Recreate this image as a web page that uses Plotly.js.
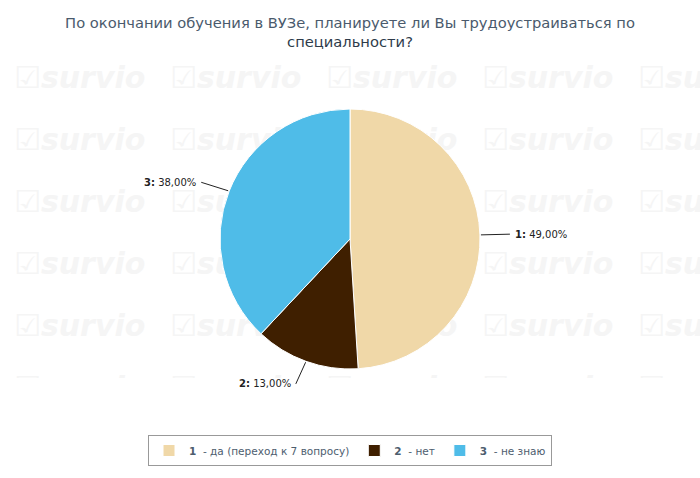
<!DOCTYPE html>
<html>
<head>
<meta charset="utf-8">
<script src="https://cdn.plot.ly/plotly-3.0.1.min.js"></script>
<style>
html,body{margin:0;padding:0;background:#fff;}
#wrap{position:relative;width:700px;height:478px;overflow:hidden;}
#wm{position:absolute;left:0;top:0;width:700px;height:378px;overflow:hidden;}
.w{position:absolute;font-family:"DejaVu Sans",sans-serif;font-weight:bold;font-style:italic;font-size:30px;color:#f5f5f5;white-space:nowrap;}
#chart{position:absolute;left:0;top:0;}
</style>
</head>
<body>
<div id="wrap"><div id="wm"></div><div id="chart"></div></div>
<script>
const categories = ['1', '2', '3'];
const descriptions = ['да (переход к 7 вопросу)', 'нет', 'не знаю'];
const values = [49, 13, 38];
const colors = ['#f0d8a8', '#3f1f00', '#4fbce8'];

// faint background watermark (decorative)
const wm = document.getElementById('wm');
for (let r = 0; r < 6; r++) {
  for (let c = 0; c < 5; c++) {
    const d = document.createElement('div');
    d.className = 'w';
    d.textContent = '☑survio';
    d.style.left = (14 + c * 156) + 'px';
    d.style.top = (60 + r * 62) + 'px';
    wm.appendChild(d);
  }
}

const W = 700, H = 478;
const cx = 350, cy = 239, R = 130;

const total = values.reduce((a, b) => a + b, 0);
const annotations = [];
let cum = 0;
const fmt = v => (v / total * 100).toFixed(2).replace('.', ',') + '%';
values.forEach((v, i) => {
  const mid = (cum + v / 2) / total;
  cum += v;
  const th = (90 - mid * 360) * Math.PI / 180;
  const px = cx + (R + 1) * Math.cos(th), py = cy - (R + 1) * Math.sin(th);
  const tx = cx + (R + 30) * Math.cos(th), ty = cy - (R + 24) * Math.sin(th);
  annotations.push({
    x: px / W, y: 1 - py / H, xref: 'paper', yref: 'paper',
    ax: tx - px, ay: ty - py, axref: 'pixel', ayref: 'pixel',
    showarrow: true, arrowhead: 0, arrowwidth: 1, arrowcolor: '#222',
    xanchor: Math.cos(th) >= 0 ? 'left' : 'right', yanchor: 'middle',
    borderpad: 4,
    text: '<b>' + categories[i] + ':</b> ' + fmt(v),
    font: {family: 'DejaVu Sans, sans-serif', size: 10, color: '#222'}
  });
});

const trace = {
  type: 'pie',
  labels: categories.map((c, i) => '<b>' + c + '</b>  - ' + descriptions[i]),
  values: values,
  sort: false,
  direction: 'clockwise',
  rotation: 0,
  marker: {colors: colors, line: {color: '#ffffff', width: 1}},
  textinfo: 'none',
  hoverinfo: 'none',
  domain: {x: [(cx - R) / W, (cx + R) / W], y: [1 - (cy + R) / H, 1 - (cy - R) / H]}
};

const layout = {
  width: W, height: H,
  margin: {l: 0, r: 0, t: 0, b: 0},
  paper_bgcolor: 'rgba(0,0,0,0)',
  plot_bgcolor: 'rgba(0,0,0,0)',
  font: {family: 'DejaVu Sans, sans-serif', color: '#4d5d6e'},
  title: {
    text: 'По окончании обучения в ВУЗе, планируете ли Вы трудоустраиваться по<br><span style="color:#2e3b4a">специальности?</span>',
    font: {size: 14.7, color: '#4a5a6c', family: 'DejaVu Sans, sans-serif'},
    x: 0.5, xanchor: 'center', y: 1 - 28 / H, yanchor: 'middle', yref: 'container'
  },
  showlegend: true,
  legend: {
    orientation: 'h', x: 0.5, xanchor: 'center', y: 1 - 435 / H, yanchor: 'top',
    bordercolor: '#999', borderwidth: 1, bgcolor: 'rgba(255,255,255,0)',
    font: {size: 10.5, color: '#4d5d6e', family: 'DejaVu Sans, sans-serif'},
    itemclick: false
  },
  annotations: annotations
};

Plotly.newPlot('chart', [trace], layout, {displayModeBar: false, staticPlot: true});
</script>
</body>
</html>
